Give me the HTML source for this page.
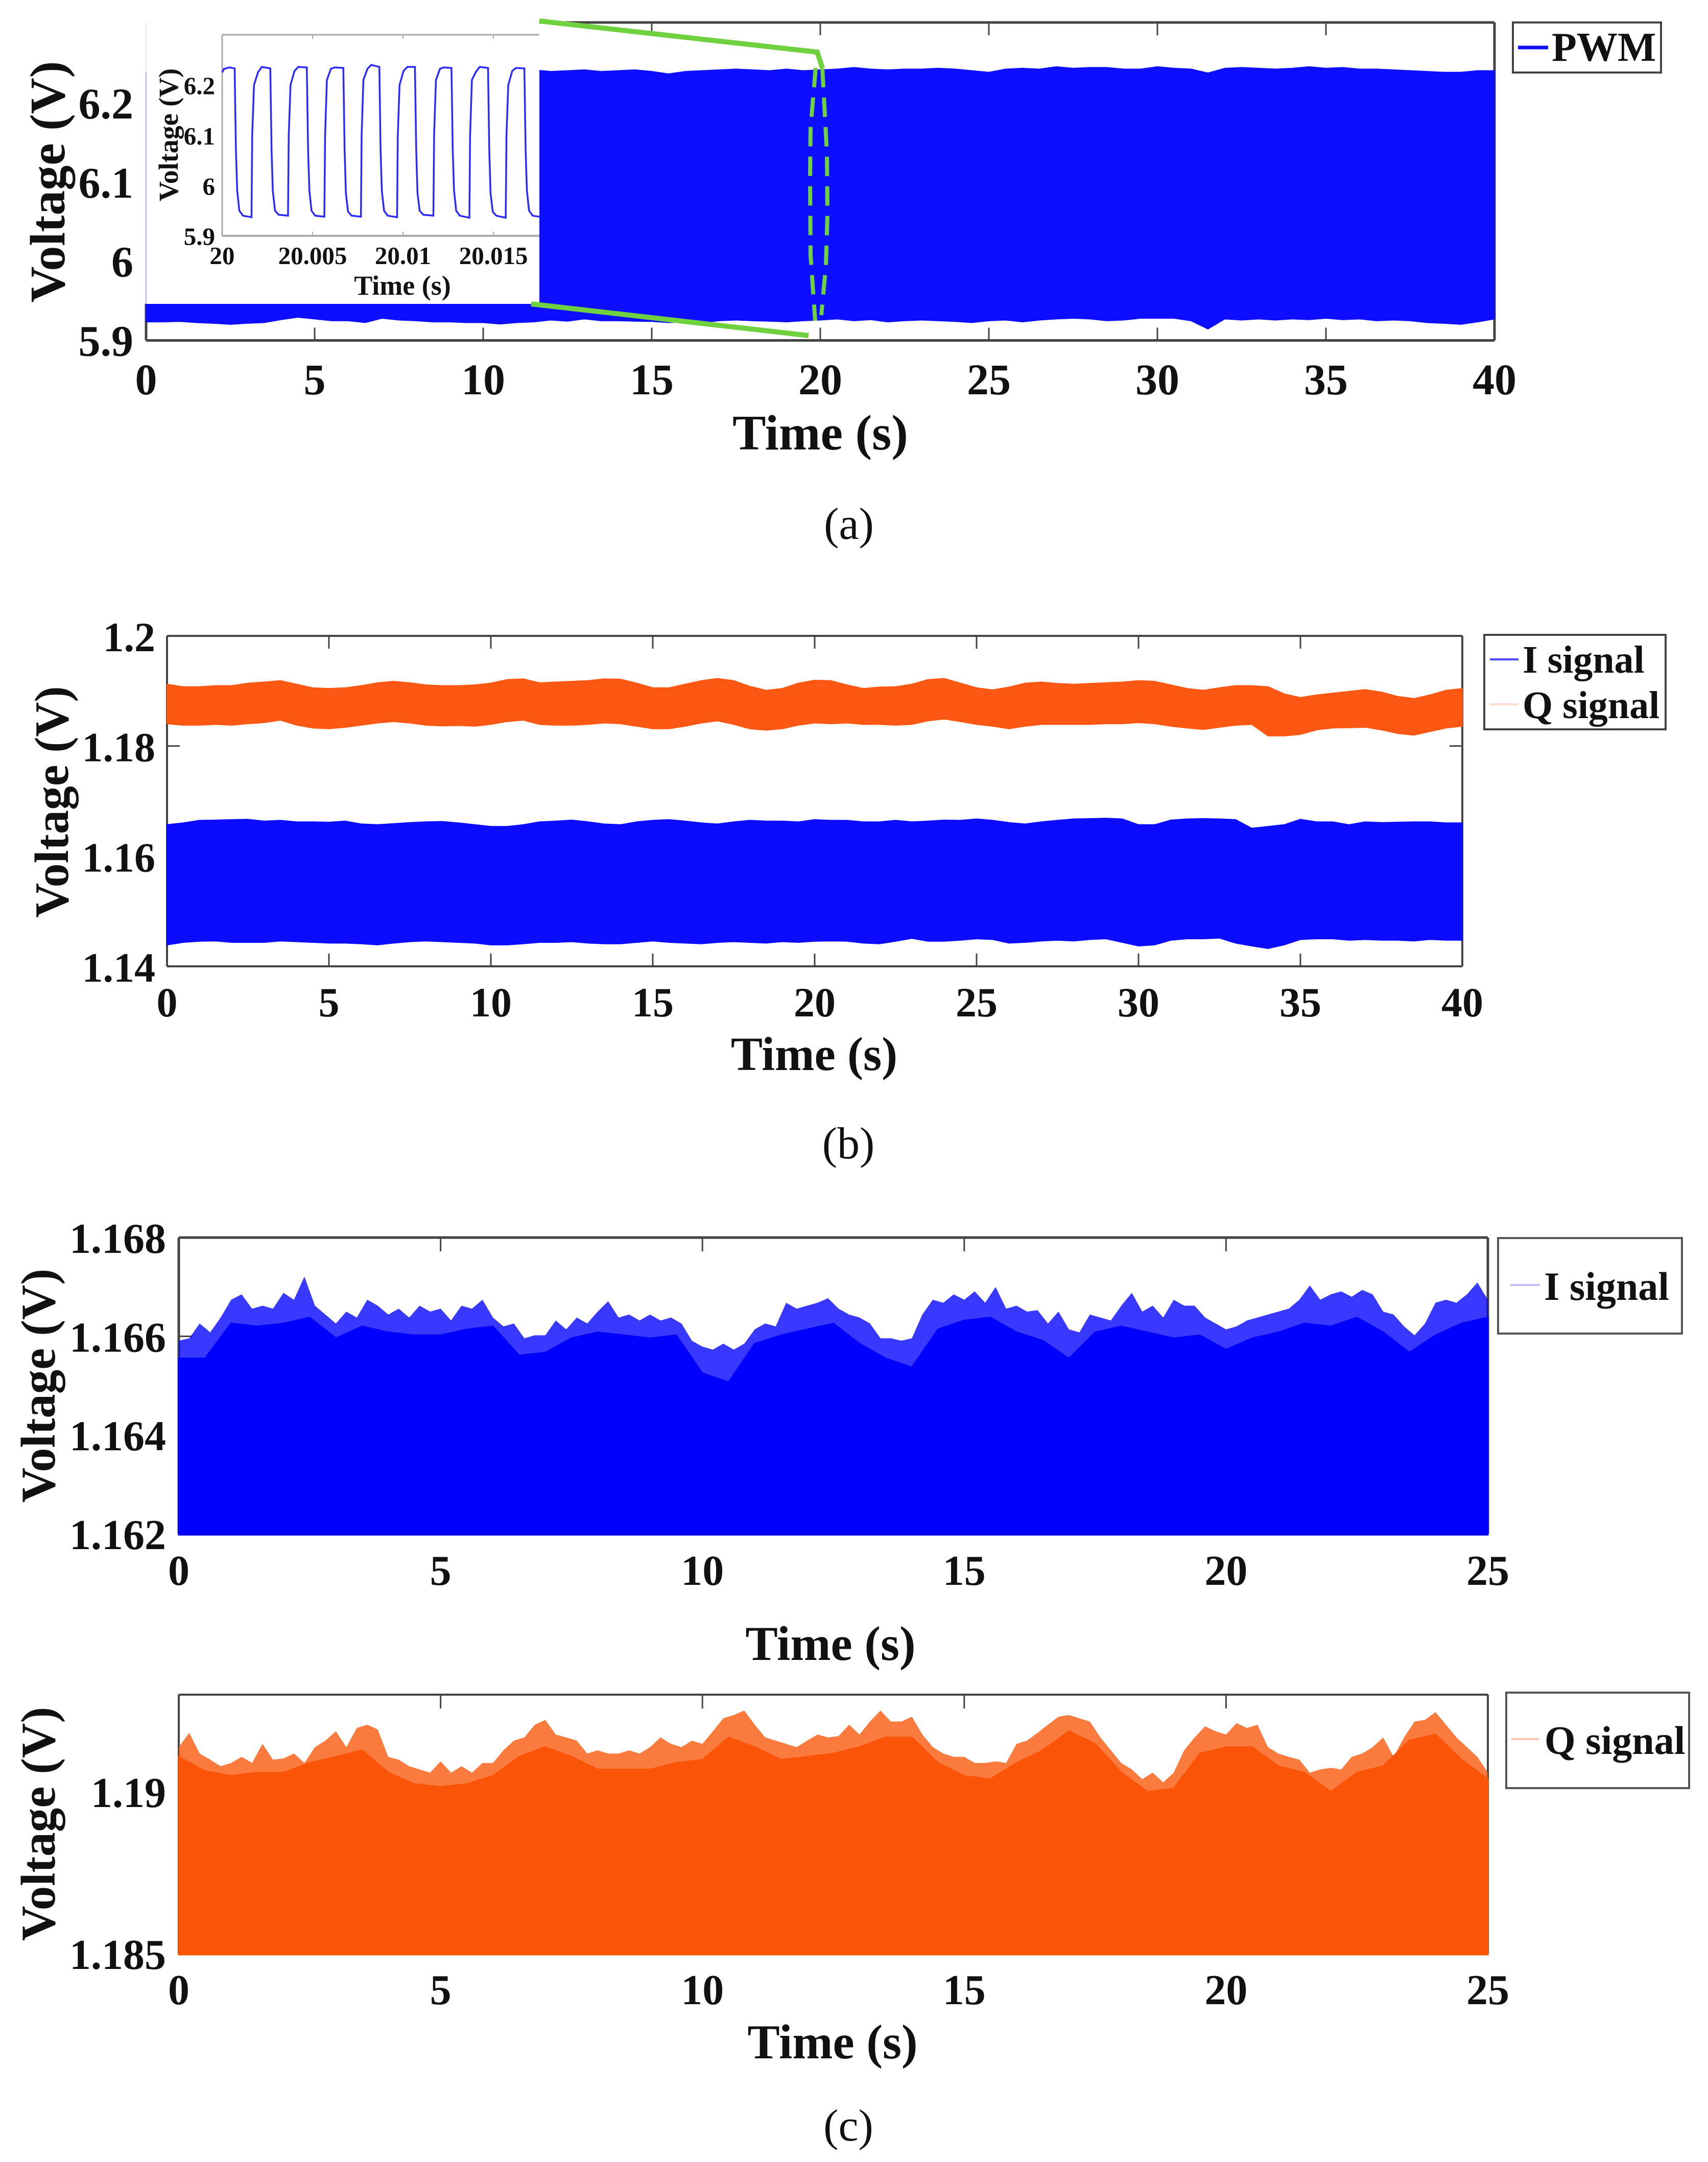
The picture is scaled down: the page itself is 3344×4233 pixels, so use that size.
<!DOCTYPE html>
<html lang="en">
<head>
<meta charset="utf-8">
<title>PWM, I and Q signal voltage traces</title>
<style>
html,body{margin:0;padding:0;background:#fff;}
svg{display:block;}
text{font-family:"Liberation Serif","Times New Roman",serif;fill:#111;}
.b{font-weight:bold;}
</style>
</head>
<body>
<svg id="figure" xmlns="http://www.w3.org/2000/svg" width="3344" height="4233" viewBox="0 0 3344 4233">
<rect x="0" y="0" width="3344" height="4233" fill="#ffffff"/>

<g id="panel-a"></g>
<rect x="280" y="30" width="776" height="565" fill="#ffffff"/>
<line x1="286" y1="140" x2="286" y2="595" stroke="#c6c6ff" stroke-width="3"/>
<line x1="286" y1="44" x2="286" y2="140" stroke="#eeeeee" stroke-width="3"/>
<g id="inset"></g>
<path d="M1056 41 L1600 102 L1610 133" fill="none" stroke="#6fd13f" stroke-width="10"/>
<path d="M1040 595 L1583 657" fill="none" stroke="#6fd13f" stroke-width="10"/>
<path d="M1597 133 L1587 250 L1586 351 L1587 500 L1596 628" fill="none" stroke="#6fd13f" stroke-width="8" stroke-dasharray="38 20"/>
<path d="M1610 133 L1619 300 L1620 420 L1617 520 L1608 617" fill="none" stroke="#6fd13f" stroke-width="8" stroke-dasharray="38 20"/>

<g>
<rect x="2962" y="44" width="290" height="98" fill="#fff" stroke="#444" stroke-width="4"/>
<line x1="2972" y1="93" x2="3031" y2="93" stroke="#0d0dff" stroke-width="7"/>
<text class="b" x="3038" y="119" font-size="80">PWM</text>
</g>
<text class="b" x="1606" y="880" font-size="98" text-anchor="middle">Time (s)</text>
<text class="b" transform="translate(126 356) rotate(-90)" font-size="98" text-anchor="middle">Voltage (V)</text>
<text x="1662" y="1055" font-size="88" text-anchor="middle">(a)</text>

<g id="panel-b"></g>
<g>
<rect x="2906" y="1243" width="355" height="185" fill="#fff" stroke="#444" stroke-width="4"/>
<line x1="2917" y1="1291" x2="2973" y2="1291" stroke="#4a4aff" stroke-width="4"/>
<text class="b" x="2981" y="1317" font-size="76">I signal</text>
<line x1="2917" y1="1379" x2="2973" y2="1379" stroke="#ffdccf" stroke-width="4"/>
<text class="b" x="2981" y="1406" font-size="76">Q signal</text>
</g>
<text class="b" x="1594" y="2095" font-size="93" text-anchor="middle">Time (s)</text>
<text class="b" transform="translate(133 1570) rotate(-90)" font-size="94" text-anchor="middle">Voltage (V)</text>
<text x="1661" y="2268" font-size="88" text-anchor="middle">(b)</text>

<g id="panel-c1"></g>
<g>
<rect x="2933" y="2424" width="360" height="187" fill="#fff" stroke="#555" stroke-width="4"/>
<line x1="2957" y1="2516" x2="3015" y2="2516" stroke="#c0c0ff" stroke-width="4"/>
<text class="b" x="3023" y="2545" font-size="78">I signal</text>
</g>
<text class="b" x="1626" y="3250" font-size="95" text-anchor="middle">Time (s)</text>
<text class="b" transform="translate(107 2713) rotate(-90)" font-size="95" text-anchor="middle">Voltage (V)</text>

<g id="panel-c2"></g>
<g>
<rect x="2949" y="3314" width="358" height="187" fill="#fff" stroke="#555" stroke-width="4"/>
<line x1="2959" y1="3405" x2="3013" y2="3405" stroke="#ffc8b0" stroke-width="4"/>
<text class="b" x="3024" y="3434" font-size="78">Q signal</text>
</g>
<text class="b" x="1630" y="4030" font-size="95" text-anchor="middle">Time (s)</text>
<text class="b" transform="translate(107 3571) rotate(-90)" font-size="95" text-anchor="middle">Voltage (V)</text>
<text x="1661" y="4191" font-size="88" text-anchor="middle">(c)</text>
</svg>

<script>
// ---- tick labels ----
var timeTicks40 = [0, 5, 10, 15, 20, 25, 30, 35, 40];
var timeTicks25 = [0, 5, 10, 15, 20, 25];
var pwmVoltTicks = [5.9, 6, 6.1, 6.2];
var iqVoltTicks = [1.14, 1.16, 1.18, 1.2];
var iVoltTicks = [1.162, 1.164, 1.166, 1.168];
var qVoltTicks = [1.185, 1.19];
var insetTimeTicks = [20, 20.005, 20.01, 20.015];
var insetVoltTicks = [5.9, 6, 6.1, 6.2];

// ---- panel (a): PWM envelope, volts, evenly sampled over 0-40 s ----
var pwmUpper = [6.241,6.243,6.242,6.240,6.241,6.243,6.242,6.241,6.240,6.242,6.243,6.241,6.240,6.242,6.241,6.243,6.242,6.240,6.241,6.242,6.243,6.241,6.240,6.242,
6.240,6.241,6.242,6.240,6.241,6.242,6.240,6.237,6.240,6.241,6.242,6.243,6.242,6.241,6.243,6.241,6.242,6.243,6.245,6.243,6.242,6.243,6.243,6.244,6.243,6.241,6.239,6.243,6.244,6.243,6.246,6.244,6.245,6.245,6.243,6.243,6.246,6.244,6.243,6.238,6.244,6.245,6.244,6.243,6.244,6.246,6.244,6.245,6.243,6.243,6.242,6.241,6.240,6.239,6.239,6.241,6.241];
var pwmLower = [5.9235,5.9235,5.9240,5.9226,5.9217,5.9204,5.9217,5.9226,5.9263,5.9294,5.9272,5.9249,5.9249,5.9226,5.9281,5.9258,5.9249,5.9235,5.9235,5.9226,5.9226,5.9208,5.9226,5.9235,5.9258,5.9244,5.9272,5.9249,5.9249,5.9244,5.9240,5.9226,5.9235,5.9226,5.9249,5.9258,5.9249,5.9244,5.9235,5.9249,5.9258,5.9272,5.9249,5.9263,5.9235,5.9249,5.9258,5.9249,5.9240,5.9226,5.9249,5.9258,5.9235,5.9258,5.9272,5.9281,5.9272,5.9249,5.9258,5.9281,5.9281,5.9281,5.9249,5.9145,5.9272,5.9258,5.9272,5.9258,5.9272,5.9263,5.9281,5.9263,5.9272,5.9249,5.9258,5.9249,5.9226,5.9217,5.9204,5.9235,5.9272];

// ---- inset: PWM waveform, milliseconds after t = 20 s and volts ----
var insetMs = [0,0.10,0.40,0.69,0.76,0.83,0.95,1.15,1.62,1.66,1.76,1.98,2.19,2.66,2.73,2.80,2.92,3.12,3.64,3.68,3.78,4.00,4.21,4.68,4.75,4.82,4.94,5.14,5.65,5.69,5.79,6.01,6.22,6.70,6.77,6.84,6.96,7.16,7.67,7.71,7.81,8.03,8.24,8.69,8.76,8.83,8.95,9.15,9.67,9.71,9.81,10.03,10.24,10.66,10.73,10.80,10.92,11.12,11.68,11.72,11.82,12.04,12.25,12.68,12.75,12.82,12.94,13.14,13.67,13.71,13.81,14.03,14.24,14.70,14.77,14.84,14.96,15.16,15.68,15.72,15.82,16.04,16.25,16.71,16.78,16.85,16.97,17.17,17.54];
var insetVolts = [6.225,6.232,6.235,6.233,6.07,5.99,5.95,5.94,5.937,6.10,6.20,6.225,6.236,6.233,6.07,5.99,5.95,5.942,5.940,6.10,6.20,6.228,6.236,6.235,6.07,5.99,5.95,5.94,5.938,6.10,6.21,6.232,6.235,6.234,6.07,5.985,5.948,5.94,5.938,6.10,6.21,6.232,6.240,6.236,6.07,5.99,5.95,5.94,5.937,6.10,6.20,6.228,6.236,6.236,6.07,5.985,5.95,5.942,5.94,6.10,6.21,6.232,6.235,6.234,6.07,5.99,5.95,5.94,5.936,6.10,6.21,6.226,6.236,6.234,6.07,5.985,5.948,5.94,5.936,6.10,6.20,6.228,6.234,6.233,6.07,5.99,5.95,5.94,5.938];

// ---- panel (b): envelopes, volts, evenly sampled over 0-40 s ----
var iUpper = [1.16571,1.16603,1.16649,1.16655,1.16662,1.16668,1.16636,1.16649,1.16623,1.16623,1.16616,1.16636,1.16584,1.16571,1.1659,1.1661,1.16623,1.16629,1.16603,1.16571,1.16538,1.16538,1.16571,1.16623,1.16636,1.16655,1.16623,1.16584,1.16571,1.16623,1.16649,1.16662,1.16636,1.16603,1.16584,1.16623,1.16649,1.16636,1.16636,1.16623,1.16662,
1.16649,1.16649,1.16623,1.16623,1.16649,1.16623,1.16636,1.16655,1.16649,1.16675,1.16649,1.1661,1.16584,1.16623,1.16649,1.16675,1.16681,1.16688,1.16675,1.16571,1.16571,1.16655,1.16675,1.16681,1.16675,1.16662,1.16506,1.16538,1.16571,1.16668,1.16623,1.16623,1.16571,1.16623,1.1661,1.16616,1.16623,1.16623,1.16603,1.16603];
var iLower = [1.1439,1.14436,1.14456,1.14462,1.14436,1.14436,1.14436,1.14462,1.14449,1.14436,1.14423,1.14423,1.1441,1.1439,1.14423,1.14449,1.14462,1.14449,1.14436,1.14423,1.1439,1.1439,1.1441,1.14436,1.14436,1.14449,1.14423,1.1441,1.1441,1.14436,1.14462,1.14436,1.14423,1.1441,1.14436,1.14449,1.14436,1.14423,1.14449,1.14436,1.14456,
1.14462,1.14456,1.14423,1.1441,1.14456,1.14508,1.14456,1.14456,1.14475,1.14501,1.14488,1.14423,1.14436,1.14462,1.14475,1.14462,1.14488,1.14501,1.14436,1.14371,1.1439,1.14475,1.14501,1.14501,1.14514,1.14423,1.14371,1.14325,1.1439,1.14488,1.14501,1.14501,1.14475,1.14488,1.14475,1.14475,1.14462,1.14488,1.14475,1.14475];
var qUpper = [1.19122,1.19076,1.19076,1.19096,1.19096,1.19141,1.19161,1.19187,1.19122,1.19057,1.19044,1.19057,1.19096,1.19148,1.19174,1.19148,1.19109,1.19096,1.19096,1.19109,1.19141,1.19206,1.19219,1.19148,1.19161,1.19174,1.19187,1.19219,1.19213,1.19141,1.19057,1.19057,1.19122,1.19187,1.19226,1.19187,1.19083,1.19011,1.19044,1.19141,1.19193,
1.19187,1.19109,1.19044,1.1907,1.19076,1.19122,1.19206,1.19226,1.19141,1.19057,1.19018,1.1907,1.19141,1.19161,1.19135,1.19122,1.19135,1.19148,1.19161,1.19187,1.19174,1.19109,1.19044,1.19011,1.19057,1.19096,1.19096,1.19076,1.18946,1.18881,1.18927,1.18959,1.18992,1.19024,1.18979,1.189,1.18861,1.18927,1.19011,1.19044];
var qLower = [1.18406,1.1838,1.1838,1.18393,1.1838,1.18406,1.18425,1.18471,1.1838,1.18328,1.18315,1.18341,1.1838,1.18419,1.18445,1.18419,1.1838,1.18367,1.18373,1.1836,1.18393,1.18445,1.18471,1.18393,1.1838,1.1838,1.18393,1.18419,1.18406,1.1836,1.18315,1.18315,1.1836,1.18419,1.18458,1.18393,1.18315,1.18289,1.18315,1.1838,1.18419,
1.18406,1.18419,1.18393,1.18393,1.1838,1.18393,1.18458,1.1849,1.18445,1.18393,1.1836,1.18315,1.1836,1.18393,1.18393,1.18393,1.18393,1.18406,1.18406,1.18425,1.18406,1.1836,1.18328,1.18302,1.18341,1.1838,1.18393,1.18185,1.18185,1.18211,1.18295,1.18328,1.18334,1.18341,1.18295,1.1823,1.18198,1.18263,1.18328,1.1836];

// ---- panel (c) I signal, volts, evenly sampled over 0-25 s ----
var iPeak = [1.16591,1.16596,1.16626,1.16608,1.16638,1.16674,1.16685,1.16656,1.16662,1.16656,1.16688,1.16674,1.16721,1.16662,1.16644,1.16626,1.16650,1.16638,1.16674,1.16662,1.16644,1.16656,1.16638,1.16662,1.16650,1.16656,1.16632,1.16662,1.16656,1.16674,1.16638,1.16620,1.16626,1.16596,1.16602,1.16602,1.16632,1.16614,1.16638,1.16626,1.16650,1.16671,1.16638,1.16644,1.16632,1.16644,1.16632,1.16638,1.16626,1.16591,1.16579,1.16573,1.16585,1.16573,1.16585,1.16614,1.16626,1.16620,1.16668,1.16656,1.16662,1.16668,1.16677,1.16656,1.16644,1.16638,1.16626,1.16596,1.16596,1.16591,1.16596,1.16644,1.16674,1.16668,1.16685,1.16674,1.16691,1.16668,1.16700,1.16656,1.16662,1.16650,1.16653,1.16626,1.16650,1.16614,1.16608,1.16644,1.16638,1.16632,1.16662,1.16688,1.16650,1.16662,1.16638,1.16674,1.16662,1.16662,1.16638,1.16626,1.16614,1.16620,1.16632,1.16638,1.16644,1.16650,1.16656,1.16674,1.16703,1.16674,1.16685,1.16691,1.16680,1.16694,1.16685,1.16650,1.16644,1.16620,1.16602,1.16626,1.16668,1.16674,1.16668,1.16685,1.16709,1.16674];
var iCore = [1.16555,1.16555,1.16626,1.16620,1.16626,1.16638,1.16596,1.16620,1.16608,1.16602,1.16602,1.16614,1.16620,1.16561,1.16567,1.16596,1.16608,1.16602,1.16596,1.16602,1.16525,1.16507,1.16585,1.16602,1.16614,1.16626,1.16585,1.16555,1.16537,1.16614,1.16632,1.16638,1.16608,1.16591,1.16555,1.16608,1.16620,1.16608,1.16596,1.16602,1.16573,1.16596,1.16608,1.16626,1.16620,1.16638,1.16608,1.16567,1.16602,1.16626,1.16638];

// ---- panel (c) Q signal, volts, evenly sampled over 0-25 s ----
var qPeak = [1.19138,1.19182,1.19118,1.19099,1.19079,1.19089,1.19108,1.19089,1.19148,1.19099,1.19103,1.19118,1.19089,1.19138,1.19158,1.19187,1.19138,1.19197,1.19207,1.19192,1.19108,1.19099,1.19079,1.19069,1.19059,1.19094,1.19059,1.19079,1.19059,1.19089,1.19089,1.19128,1.19158,1.19168,1.19207,1.19222,1.19177,1.19168,1.19158,1.19118,1.19128,1.19118,1.19118,1.19128,1.19118,1.19138,1.19168,1.19148,1.19138,1.19158,1.19148,1.19187,1.19227,1.19237,1.19251,1.19207,1.19168,1.19158,1.19148,1.19138,1.19158,1.19177,1.19168,1.19172,1.19207,1.19177,1.19217,1.19251,1.19217,1.19217,1.19232,1.19177,1.19138,1.19118,1.19108,1.19108,1.19089,1.19089,1.19094,1.19089,1.19148,1.19158,1.19182,1.19207,1.19232,1.19237,1.19227,1.19217,1.19168,1.19128,1.19089,1.19069,1.19039,1.19059,1.19029,1.19059,1.19128,1.19168,1.19202,1.19187,1.19177,1.19212,1.19197,1.19207,1.19138,1.19118,1.19108,1.19099,1.19059,1.19069,1.19074,1.19069,1.19108,1.19118,1.19138,1.19168,1.19108,1.19168,1.19217,1.19222,1.19246,1.19207,1.19168,1.19138,1.19108,1.19059];
var qCore = [1.19108,1.19064,1.19049,1.19059,1.19059,1.19089,1.19108,1.19128,1.19059,1.19024,1.19015,1.19024,1.19049,1.19108,1.19138,1.19108,1.19069,1.19069,1.19069,1.19089,1.19099,1.19168,1.19138,1.19099,1.19108,1.19118,1.19138,1.19168,1.19168,1.19089,1.19049,1.19039,1.19089,1.19128,1.19187,1.19148,1.19059,1.19000,1.19010,1.19118,1.19138,1.19138,1.19079,1.19059,1.19000,1.19059,1.19079,1.19158,1.19177,1.19099,1.19039];

// ---- drawing ----
var SVGNS = 'http://www.w3.org/2000/svg';
function make(parent, tag, attrs, name) {
  var el = document.createElementNS(SVGNS, tag);
  for (var k in attrs) { el.setAttribute(k, attrs[k]); }
  
  
  parent.appendChild(el);
  return el;
}
function xScale(p, v) { return p.left + (v - p.xMin) / (p.xMax - p.xMin) * (p.right - p.left); }
function yScale(p, v) { return p.bottom - (v - p.yMin) / (p.yMax - p.yMin) * (p.bottom - p.top); }
function sampleTime(p, i, n) { return p.xMin + i * (p.xMax - p.xMin) / (n - 1); }

function drawFrame(g, p, stroke, sw) {
  make(g, 'line', {x1:p.left, y1:p.bottom, x2:p.right, y2:p.bottom, stroke:stroke, 'stroke-width':sw}, 'x-axis-line');
  make(g, 'line', {x1:p.left, y1:p.top, x2:p.right, y2:p.top, stroke:stroke, 'stroke-width':sw}, 'top-border');
  make(g, 'line', {x1:p.left, y1:p.top, x2:p.left, y2:p.bottom, stroke:stroke, 'stroke-width':sw}, 'y-axis-line');
  make(g, 'line', {x1:p.right, y1:p.top, x2:p.right, y2:p.bottom, stroke:stroke, 'stroke-width':sw}, 'right-border');
}
function drawTicks(g, p, xTicks, yTicks, len, stroke, sw) {
  xTicks.forEach(function (t) {
    var x = xScale(p, t);
    make(g, 'line', {x1:x, y1:p.bottom, x2:x, y2:p.bottom - len, stroke:stroke, 'stroke-width':sw}, 'x-tick-bottom');
    make(g, 'line', {x1:x, y1:p.top, x2:x, y2:p.top + len, stroke:stroke, 'stroke-width':sw}, 'x-tick-top');
  });
  yTicks.forEach(function (t) {
    var y = yScale(p, t);
    make(g, 'line', {x1:p.left, y1:y, x2:p.left + len, y2:y, stroke:stroke, 'stroke-width':sw}, 'y-tick-left');
    make(g, 'line', {x1:p.right, y1:y, x2:p.right - len, y2:y, stroke:stroke, 'stroke-width':sw}, 'y-tick-right');
  });
}
function drawLabels(g, p, xTicks, yTicks, size, xBase, yRight, yShift) {
  xTicks.forEach(function (t) {
    var el = make(g, 'text', {x:xScale(p, t), y:xBase, 'font-size':size, 'text-anchor':'middle', 'class':'b'}, 'x-tick-label');
    el.textContent = String(t);
  });
  yTicks.forEach(function (t) {
    var el = make(g, 'text', {x:yRight, y:yScale(p, t) + yShift, 'font-size':size, 'text-anchor':'end', 'class':'b'}, 'y-tick-label');
    el.textContent = String(t);
  });
}
function linePts(p, arr) {
  return arr.map(function (v, i) {
    return xScale(p, sampleTime(p, i, arr.length)).toFixed(1) + ' ' + yScale(p, v).toFixed(1);
  });
}
function drawBand(g, p, upper, lower, color, name) {
  var top = linePts(p, upper);
  var low = linePts(p, lower).reverse();
  make(g, 'path', {d:'M' + top.join('L') + 'L' + low.join('L') + 'Z', fill:color, stroke:color, 'stroke-width':2}, name);
}
function drawArea(g, p, arr, color, opacity, name) {
  var d = 'M' + p.left + ' ' + (p.bottom + 2) + 'L' + linePts(p, arr).join('L') + 'L' + p.right + ' ' + (p.bottom + 2) + 'Z';
  make(g, 'path', {d:d, fill:color, 'fill-opacity':opacity, stroke:opacity < 1 ? 'none' : color, 'stroke-width':opacity < 1 ? 0 : 3}, name);
}

// panel a
var pa = {left:286, right:2926, top:44, bottom:666.5, xMin:0, xMax:40, yMin:5.9, yMax:6.302};
var ga = document.getElementById('panel-a');
drawFrame(ga, pa, '#444', 5);
drawTicks(ga, pa, timeTicks40.slice(1, -1), [], 25, '#444', 3);
drawBand(ga, pa, pwmUpper, pwmLower, '#0d0dff', 'pwm-signal-envelope');
drawLabels(ga, pa, timeTicks40, pwmVoltTicks, 86, 772, 261, 30);

// inset
var pi = {left:435, right:1056, top:68, bottom:461.7, xMin:20, xMax:20.01754, yMin:5.9, yMax:6.3};
var gi = document.getElementById('inset');
make(gi, 'line', {x1:pi.left, y1:pi.bottom, x2:pi.right, y2:pi.bottom, stroke:'#aaa', 'stroke-width':4}, 'inset-x-axis-line');
make(gi, 'line', {x1:pi.left, y1:pi.top, x2:pi.right, y2:pi.top, stroke:'#aaa', 'stroke-width':3}, 'inset-top-border');
make(gi, 'line', {x1:pi.left, y1:pi.top, x2:pi.left, y2:pi.bottom, stroke:'#aaa', 'stroke-width':3}, 'inset-y-axis-line');
insetTimeTicks.slice(1).forEach(function (t) {
  var x = xScale(pi, t);
  make(gi, 'line', {x1:x, y1:pi.bottom, x2:x, y2:pi.bottom - 8, stroke:'#aaa', 'stroke-width':2}, 'inset-x-tick');
  make(gi, 'line', {x1:x, y1:pi.top, x2:x, y2:pi.top + 8, stroke:'#aaa', 'stroke-width':2}, 'inset-x-tick');
});
var insetPts = insetMs.map(function (ms, i) {
  return xScale(pi, 20 + ms / 1000).toFixed(1) + ',' + yScale(pi, insetVolts[i]).toFixed(1);
});
make(gi, 'polyline', {points:insetPts.join(' '), fill:'none', stroke:'#2a2aff', 'stroke-width':3.5}, 'inset-pwm-waveform');
insetTimeTicks.forEach(function (t) {
  var el = make(gi, 'text', {x:xScale(pi, t), y:517, 'font-size':49, 'text-anchor':'middle', 'class':'b'}, 'inset-x-tick-label');
  el.textContent = String(t);
});
insetVoltTicks.forEach(function (t) {
  var el = make(gi, 'text', {x:421, y:yScale(pi, t) + 18, 'font-size':49, 'text-anchor':'end', 'class':'b'}, 'inset-y-tick-label');
  el.textContent = String(t);
});
var insetXTitle = make(gi, 'text', {x:788, y:577, 'font-size':54, 'text-anchor':'middle', 'class':'b'}, 'inset-x-axis-title');
insetXTitle.textContent = 'Time (s)';
var insetYTitle = make(gi, 'text', {transform:'translate(348 264) rotate(-90)', 'font-size':54, 'text-anchor':'middle', 'class':'b'}, 'inset-y-axis-title');
insetYTitle.textContent = 'Voltage (V)';

// panel b
var pb = {left:327, right:2863, top:1245, bottom:1892, xMin:0, xMax:40, yMin:1.14, yMax:1.2};
var gb = document.getElementById('panel-b');
drawFrame(gb, pb, '#444', 4);
drawTicks(gb, pb, timeTicks40.slice(1, -1), iqVoltTicks.slice(1, -1), 25, '#444', 3);
drawBand(gb, pb, qUpper, qLower, '#fc5713', 'q-signal-envelope');
drawBand(gb, pb, iUpper, iLower, '#0b0bff', 'i-signal-envelope');
drawLabels(gb, pb, timeTicks40, iqVoltTicks, 82, 1990, 304, 30);

// panel c, I
var pc1 = {left:350, right:2913, top:2423, bottom:3003, xMin:0, xMax:25, yMin:1.162, yMax:1.168};
var gc1 = document.getElementById('panel-c1');
drawFrame(gc1, pc1, '#444', 5);
drawTicks(gc1, pc1, timeTicks25.slice(1, -1), iVoltTicks.slice(1, -1), 27, '#444', 3);
drawArea(gc1, pc1, iPeak, '#0000ff', 0.78, 'i-signal-noise-peaks');
drawArea(gc1, pc1, iCore, '#0000ff', 1, 'i-signal-trace');
drawLabels(gc1, pc1, timeTicks25, iVoltTicks, 84, 3103, 325, 30);

// panel c, Q
var pc2 = {left:350, right:2913, top:3318, bottom:3825, xMin:0, xMax:25, yMin:1.185, yMax:1.193};
var gc2 = document.getElementById('panel-c2');
drawFrame(gc2, pc2, '#444', 4);
drawTicks(gc2, pc2, timeTicks25.slice(1, -1), [], 27, '#444', 3);
drawArea(gc2, pc2, qPeak, '#fa5408', 0.78, 'q-signal-noise-peaks');
drawArea(gc2, pc2, qCore, '#fa5408', 1, 'q-signal-trace');
drawLabels(gc2, pc2, timeTicks25, qVoltTicks, 84, 3924, 325, 30);
</script>
</body>
</html>
